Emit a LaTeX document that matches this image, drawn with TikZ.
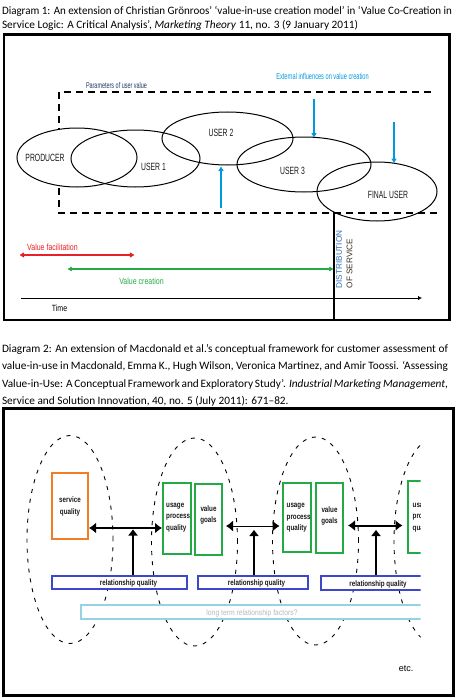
\documentclass[tikz,border=0pt]{standalone}
\usepackage{fontspec}
\usepackage{graphicx}
\setmainfont{Carlito}
\newfontfamily\narA{Liberation Sans}[FakeStretch=0.65]
\newfontfamily\narB{Liberation Sans}[FakeStretch=0.78]
\newfontfamily\narC{Liberation Sans}[FakeStretch=0.85]
\newfontfamily\arialf{Liberation Sans}
\usetikzlibrary{arrows.meta,shapes.geometric}
\definecolor{bluearr}{RGB}{0,153,221}
\definecolor{redarr}{RGB}{232,32,40}
\definecolor{greenarr}{RGB}{40,170,70}
\definecolor{navy}{RGB}{31,56,100}
\definecolor{distblue}{RGB}{50,110,180}
\definecolor{distdark}{RGB}{60,50,40}
\definecolor{boxorange}{RGB}{240,125,40}
\definecolor{boxgreen}{RGB}{34,170,70}
\definecolor{boxblue}{RGB}{60,72,200}
\definecolor{boxlight}{RGB}{150,210,230}
\definecolor{txtgray}{RGB}{185,185,185}
\definecolor{dtext}{RGB}{25,25,25}
\begin{document}
\begin{tikzpicture}[x=1pt,y=-1pt,
  capline/.style={anchor=base west, inner sep=0pt, outer sep=0pt, font=\fontsize{11.3}{13}\selectfont},
  frameone/.style={draw=black, line width=2.4pt},
  frametwo/.style={draw=black, line width=3.2pt},
  userell/.style={draw=black, line width=1pt, ellipse, inner sep=0pt, outer sep=0pt},
  ellabel/.style={inner sep=0pt, text=dtext, font=\narA\fontsize{10.5}{12}\selectfont},
  tinylabel/.style={inner sep=0pt, font=\narA\fontsize{8.4}{10}\selectfont},
  paramline/.style={draw=black, line width=1.5pt, dash pattern=on 7pt off 5pt},
  bluearrow/.style={draw=bluearr, line width=1.4pt, -{Triangle[length=4.5pt,width=5pt]}},
  midlabel/.style={inner sep=0pt, font=\narB\fontsize{9}{10}\selectfont},
  vtext/.style={inner sep=0pt, rotate=90, anchor=west, font=\arialf\fontsize{8.2}{9}\selectfont},
  loopell/.style={draw=black, line width=0.9pt, dash pattern=on 4pt off 6pt, ellipse, inner sep=0pt, minimum width=86pt, minimum height=208pt},
  orbox/.style={draw=boxorange, line width=1.4pt, fill=white, inner sep=0pt},
  grbox/.style={draw=boxgreen, line width=1.8pt, fill=white, inner sep=0pt},
  blbox/.style={draw=boxblue, line width=1.6pt, fill=white, inner sep=0pt},
  ltbox/.style={draw=boxlight, line width=1.5pt, fill=white, inner sep=0pt},
  boxtext/.style={inner sep=0pt, text=dtext, font=\narB\bfseries\fontsize{8}{11.5}\selectfont},
  harrow/.style={draw=black, line width=2pt, {Latex[length=7pt,width=11pt]}-{Latex[length=7pt,width=11pt]}},
  varrow/.style={draw=black, line width=2pt, -{Triangle[length=6pt,width=9pt]}},
]
\useasboundingbox (0,0) rectangle (455,698);
\fill[white] (0,0) rectangle (455,698);

% ---------- caption 1
\node[capline] (c1a) at (2,14.5) {\resizebox{450pt}{\height}{Diagram 1: An extension of Christian Grönroos’ ‘value-in-use creation model’ in ‘Value Co-Creation in}};
\node[capline] (c1b) at (2,29) {Service Logic: A Critical Analysis’, \textit{Marketing Theory} 11, no. 3 (9 January 2011)};

% ---------- diagram 1
\draw[frameone] (3.8,34.7) rectangle (449.5,319.7);

\coordinate (pr1) at (437,213);
\coordinate (pr2) at (59,213);
\coordinate (pr3) at (59,92);
\coordinate (pr4) at (432,92);
\draw[paramline] (pr1) -- (pr2) -- (pr3) -- (pr4);

\node[userell, fill=white, minimum width=120pt, minimum height=59pt] (producer) at (77,157.5) {};
\node[userell, minimum width=129pt, minimum height=57pt] (user1) at (135.5,158.5) {};
\node[userell, minimum width=131pt, minimum height=53pt] (user2) at (227.5,138.5) {};
\node[userell, minimum width=134pt, minimum height=55pt] (user3) at (304,164.5) {};
\node[userell, minimum width=120pt, minimum height=59pt] (finaluser) at (377,191.5) {};

\node[ellabel] (tprod) at (45,158) {PRODUCER};
\node[ellabel] (tu1) at (153.5,167) {USER 1};
\node[ellabel] (tu2) at (221,133) {USER 2};
\node[ellabel] (tu3) at (292.5,171) {USER 3};
\node[ellabel] (tfin) at (388,195) {FINAL USER};

\node[tinylabel, text=navy] (tparam) at (116.5,85) {Parameters of user value};
\node[tinylabel, text=bluearr, font=\narA\fontsize{8.7}{10}\selectfont] (text) at (322.5,76) {External influences on value creation};

\coordinate (b1s) at (221,208);
\coordinate (b1e) at (221,166.5);
\coordinate (b2s) at (314,99);
\coordinate (b2e) at (314,137.5);
\coordinate (b3s) at (394,122);
\coordinate (b3e) at (394,163);
\draw[bluearrow] (b1s) -- (b1e);
\draw[bluearrow] (b2s) -- (b2e);
\draw[bluearrow] (b3s) -- (b3e);

\coordinate (d1) at (334,212);
\coordinate (d2) at (334,319);
\draw[line width=1.6pt] (d1) -- (d2);
\node[vtext, text=distblue] (tdist) at (339,288.5) {DISTRIBUTION};
\node[vtext, text=distdark] (tserv) at (349.5,288.5) {OF SERVICE};

\coordinate (r1) at (20,255);
\coordinate (r2) at (134,255);
\draw[redarr, line width=2pt, {Latex[round,length=5pt,width=6.5pt]}-{Latex[round,length=5pt,width=6.5pt]}] (r1) -- (r2);
\node[midlabel, text=redarr] (tfac) at (52.5,247) {Value facilitation};

\coordinate (g1) at (68,269);
\coordinate (g2) at (333,269);
\draw[greenarr, line width=1.3pt, {Latex[round,length=4.5pt,width=5.5pt]}-{Latex[round,length=4.5pt,width=5.5pt]}] (g1) -- (g2);
\node[midlabel, text=greenarr] (tcre) at (141.5,281) {Value creation};

\coordinate (t1) at (21,298);
\coordinate (t2) at (422,298);
\draw[line width=0.9pt, -{Latex[length=4pt,width=4.5pt]}] (t1) -- (t2);
\node[midlabel, text=black] (ttime) at (59.5,308) {Time};

% ---------- caption 2
\node[capline] (c2a) at (2,352) {\makebox[446pt][s]{Diagram 2: An extension of Macdonald et al.’s conceptual framework for customer assessment of}};
\node[capline] (c2b) at (2,369.5) {\makebox[446pt][s]{value-in-use in Macdonald, Emma K., Hugh Wilson, Veronica Martinez, and Amir Toossi. ‘Assessing}};
\node[capline] (c2c) at (2,387) {\makebox[446pt][s]{Value-in-Use: A Conceptual Framework and Exploratory Study’. \textit{Industrial Marketing Management},}};
\node[capline] (c2d) at (2,404) {Service and Solution Innovation, 40, no. 5 (July 2011): 671–82.};

% ---------- diagram 2
\begin{scope}
\clip (0,400) rectangle (420.5,698);
\node[loopell] (loop1) at (70,539.5) {};
\node[loopell] (loop2) at (194.5,542) {};
\node[loopell] (loop3) at (315.5,541) {};
\node[loopell] (loop4) at (437,541) {};

\node[orbox, minimum width=36pt, minimum height=66pt] (svc) at (70,506) {};
\node[grbox, minimum width=28pt, minimum height=71pt] (usageA) at (177,518.5) {};
\node[grbox, minimum width=27pt, minimum height=71pt] (valueA) at (208.5,519.5) {};
\node[grbox, minimum width=28pt, minimum height=69pt] (usageB) at (297,517.5) {};
\node[grbox, line width=1.4pt, minimum width=27pt, minimum height=70pt] (valueB) at (329.5,518) {};
\node[grbox, minimum width=28pt, minimum height=72pt] (usageC) at (422,517) {};

\node[boxtext, align=center] (tsvc) at (70,506.5) {service\\quality};
\node[boxtext, align=left, anchor=west] (tusA) at (166,517.5) {usage\\process\\quality};
\node[boxtext, align=center] (tvaA) at (208.5,515) {value\\goals};
\node[boxtext, align=left, anchor=west] (tusB) at (286.5,518) {usage\\process\\quality};
\node[boxtext, align=center] (tvaB) at (329.5,516) {value\\goals};
\node[boxtext, align=left, anchor=west] (tusC) at (412.5,517.5) {usage\\process\\quality};

\node[blbox, minimum width=135pt, minimum height=13pt] (rel1) at (119.5,582.5) {};
\node[blbox, minimum width=110pt, minimum height=13pt] (rel2) at (253,582.5) {};
\node[blbox, line width=2.2pt, minimum width=109pt, minimum height=14pt] (rel3) at (375.5,583) {};
\node[boxtext, anchor=base] (trel1) at (128.5,585.7) {relationship quality};
\node[boxtext, anchor=base] (trel2) at (256.5,585.7) {relationship quality};
\node[boxtext, anchor=base] (trel3) at (378,586.3) {relationship quality};

\node[ltbox, minimum width=349pt, minimum height=14pt] (longterm) at (255.5,612) {};
\node[inner sep=0pt, anchor=base, text=txtgray, font=\narC\fontsize{8}{10}\selectfont] (tlong) at (252,615) {long term relationship factors?};

\coordinate (h1a) at (89,528);
\coordinate (h1b) at (162,528);
\coordinate (h2a) at (226,526);
\coordinate (h2b) at (279.5,526);
\coordinate (h3a) at (348,525.5);
\coordinate (h3b) at (402.5,525.5);
\draw[harrow] (h1a) -- (h1b);
\draw[harrow, line width=1pt] (h2a) -- (h2b);
\draw[harrow] (h3a) -- (h3b);

\coordinate (tip1) at (133,529.5);
\coordinate (tip2) at (254,530);
\coordinate (tip3) at (376,530);
\draw[varrow] (rel1.north -| tip1) -- (tip1);
\draw[varrow, line width=1.4pt] (rel2.north -| tip2) -- (tip2);
\draw[varrow] (rel3.north -| tip3) -- (tip3);
\end{scope}

\node[inner sep=0pt, font=\arialf\fontsize{9}{10}\selectfont] (tetc) at (406,668.5) {etc.};

\draw[frametwo] (3.3,408.3) rectangle (453.3,695.7);
\end{tikzpicture}
\end{document}
